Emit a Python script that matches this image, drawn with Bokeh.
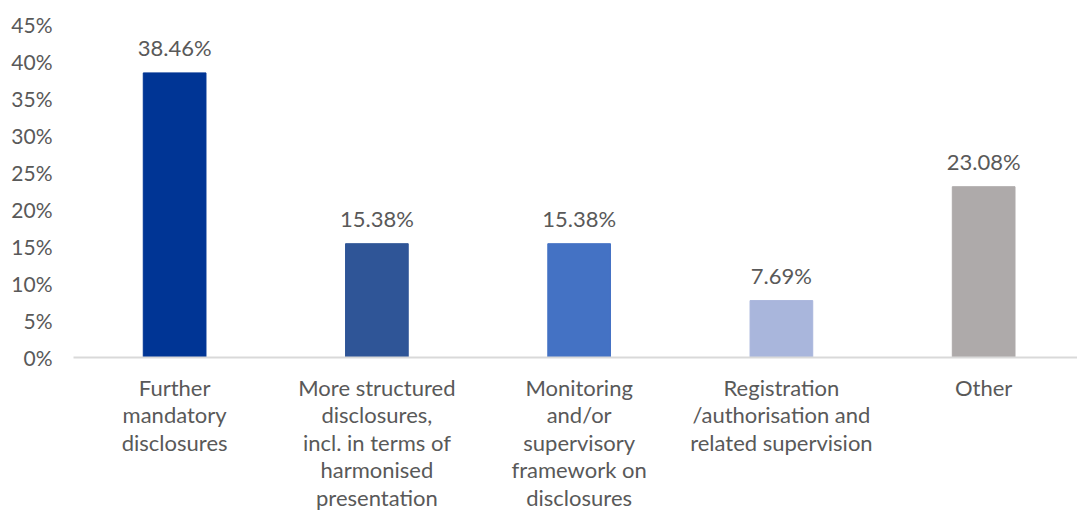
from bokeh.plotting import figure
from bokeh.models import ColumnDataSource, Range1d, FixedTicker, PrintfTickFormatter
from bokeh.core.properties import value
from bokeh.embed import file_html
from bokeh.resources import INLINE

categories = [
    "Further\nmandatory\ndisclosures",
    "More structured\ndisclosures,\nincl. in terms of\nharmonised\npresentation",
    "Monitoring\nand/or\nsupervisory\nframework on\ndisclosures",
    "Registration\n/authorisation and\nrelated supervision",
    "Other",
]
values = [38.46, 15.38, 15.38, 7.69, 23.08]
colors = ["#003595", "#2F5597", "#4472C4", "#A9B6DC", "#AEAAAA"]
y_ticks = [0, 5, 10, 15, 20, 25, 30, 35, 40, 45]

FONT = "Lato"
GREY = "#595959"

xs = [i + 0.5 for i in range(len(categories))]
src = ColumnDataSource(dict(
    x=xs, top=values, color=colors,
    label=[f"{v:.2f}%" for v in values],
))

p = figure(frame_width=1004, frame_height=333, output_backend="svg", toolbar_location=None,
           x_range=Range1d(0, 4.964), y_range=Range1d(0, 45),
           min_border_left=73, min_border_top=24, min_border_right=0, min_border_bottom=0)
p.outline_line_color = None
p.xgrid.visible = False
p.ygrid.visible = False

p.vbar(x="x", top="top", width=0.31, bottom=0, fill_color="color",
       line_color="color", source=src)
p.text(x="x", y="top", text="label", source=src, text_align="center",
       text_baseline="alphabetic", y_offset=-25, text_color=GREY,
       text_font=value(FONT), text_font_size="22px")

# y axis
p.yaxis.ticker = FixedTicker(ticks=y_ticks)
p.yaxis.formatter = PrintfTickFormatter(format="%d%%")
p.yaxis.axis_line_color = None
p.yaxis.major_tick_line_color = None
p.yaxis.minor_tick_line_color = None
p.yaxis.major_tick_out = 0
p.yaxis.major_tick_in = 0
p.yaxis.minor_tick_out = 0
p.yaxis.minor_tick_in = 0
p.yaxis.major_label_standoff = 21
p.yaxis.major_label_text_font = FONT
p.yaxis.major_label_text_font_size = "21px"
p.yaxis.major_label_text_color = GREY

# x axis
p.xaxis.ticker = FixedTicker(ticks=xs)
p.xaxis.major_label_overrides = {x: c for x, c in zip(xs, categories)}
p.xaxis.axis_line_color = "#D9D9D9"
p.xaxis.axis_line_width = 2
p.xaxis.major_tick_line_color = None
p.xaxis.minor_tick_line_color = None
p.xaxis.major_tick_out = 0
p.xaxis.major_tick_in = 0
p.xaxis.minor_tick_out = 0
p.xaxis.minor_tick_in = 0
p.xaxis.major_label_standoff = 16
p.xaxis.major_label_text_font = FONT
p.xaxis.major_label_text_font_size = "22px"
p.xaxis.major_label_text_line_height = 1.02
p.xaxis.major_label_text_color = GREY

open("out.html", "w").write(file_html(p, INLINE))
